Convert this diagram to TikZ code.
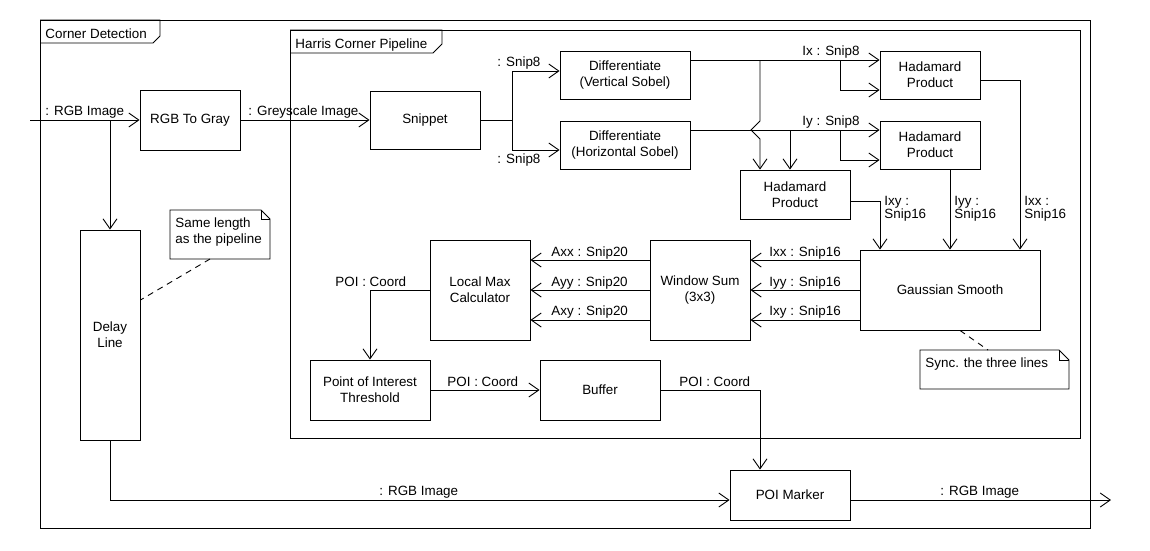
\documentclass[tikz,border=0pt]{standalone}
\usepackage{fontspec}
\setmainfont{Liberation Sans}
\usetikzlibrary{arrows.meta}

\begin{document}
\begin{tikzpicture}[x=1pt,y=-1pt,
  line width=0.9pt,
  font=\fontsize{13.4}{16}\selectfont,
  block/.style={draw, rectangle, align=center, inner sep=0pt},
  arr/.style={-{Straight Barb[length=10pt,width=14pt]}},
  lbl/.style={anchor=base west, inner sep=0pt},
  ghost/.style={inner sep=0pt, outer sep=0pt},
  link/.style={dash pattern=on 6pt off 5pt}
]
\useasboundingbox (0,0) rectangle (1150,550);
\fill[white] (0,0) rectangle (1150,550);

% ---- frames ----
\draw (40,20) rectangle (1090,528);
\draw (40,20) -- (160,20) -- (160,36) -- (153,43) -- (40,43);
\node[lbl] (tabOuter) at (45,38) {Corner Detection};

\draw (290,30) rectangle (1080,438);
\draw (290,30) -- (442,30) -- (442,44) -- (433,53) -- (290,53);
\node[lbl] (tabInner) at (295,48) {Harris Corner Pipeline};

% ---- blocks ----
\node[block, minimum width=100pt, minimum height=60pt] (rgb) at (190,120) {RGB To Gray};
\node[block, minimum width=60pt, minimum height=210pt] (delay) at (110,335) {Delay\\Line};
\node[block, minimum width=110pt, minimum height=58pt] (snippet) at (425,120) {Snippet};
\node[block, minimum width=130pt, minimum height=48pt] (diffv) at (625,75) {Differentiate\\(Vertical Sobel)};
\node[block, minimum width=130pt, minimum height=48pt] (diffh) at (625,145) {Differentiate\\(Horizontal Sobel)};
\node[block, minimum width=100pt, minimum height=48pt] (had1) at (930,75) {Hadamard\\Product};
\node[block, minimum width=100pt, minimum height=48pt] (had2) at (930,145) {Hadamard\\Product};
\node[block, minimum width=110pt, minimum height=49pt] (had3) at (795,194.5) {Hadamard\\Product};
\node[block, minimum width=180pt, minimum height=80pt] (gauss) at (950,290) {Gaussian Smooth};
\node[block, minimum width=100pt, minimum height=100pt] (wsum) at (700,290) {Window Sum\\(3x3)};
\node[block, minimum width=100pt, minimum height=100pt] (lmax) at (480,290) {Local Max\\Calculator};
\node[block, minimum width=120pt, minimum height=60pt] (poit) at (370,390) {Point of Interest\\Threshold};
\node[block, minimum width=120pt, minimum height=60pt] (buffer) at (600,390) {Buffer};
\node[block, minimum width=120pt, minimum height=50pt] (poim) at (790,495) {POI Marker};

% ---- notes ----
\node[ghost, minimum width=100pt, minimum height=49pt] (note1) at (220,234.5) {};
\draw (note1.north west) -- ([xshift=-9pt]note1.north east) -- ([yshift=-9pt]note1.north east)
      -- (note1.south east) -- (note1.south west) -- cycle;
\draw ([xshift=-9pt]note1.north east) -- ([xshift=-9pt,yshift=-9pt]note1.north east) -- ([yshift=-9pt]note1.north east);
\node[lbl, align=left] (note1txt) at (175,243) {Same length\\as the pipeline};

\node[ghost, minimum width=149pt, minimum height=39pt] (note2) at (994.5,369.5) {};
\draw (note2.north west) -- ([xshift=-10pt]note2.north east) -- ([yshift=-10pt]note2.north east)
      -- (note2.south east) -- (note2.south west) -- cycle;
\draw ([xshift=-10pt]note2.north east) -- ([xshift=-10pt,yshift=-10pt]note2.north east) -- ([yshift=-10pt]note2.north east);
\node[lbl] (note2txt) at (925,367) {Sync. the three lines};

\draw[link] ([xshift=-10pt]note1.south) -- ([yshift=35pt]delay.east);
\draw[link] ([xshift=10pt]gauss.south) -- ([xshift=-6.5pt]note2.north);

% ---- connectors ----
\coordinate (src) at (30,120);
\coordinate (tapDelay) at (110,120);
\coordinate (sink) at (1111,500);
\draw[arr] (src) -- (rgb.west);
\node[lbl] (lIn) at (45,115) {: RGB Image};
\draw[arr] (tapDelay) -- (delay.north);

\draw[arr] (rgb.east) -- (snippet.west);
\node[lbl] (lGrey) at (248,115) {: Greyscale Image};

\draw[arr] (snippet.east) -- ++(32,0) |- ([yshift=4pt]diffv.west);
\draw[arr] (snippet.east) -- ++(32,0) |- ([yshift=-5pt]diffh.west);
\node[lbl] (lS1) at (497,66) {: Snip8};
\node[lbl] (lS2) at (497,163) {: Snip8};

% Ix
\coordinate (ixSplit) at (840,60);
\coordinate (ixDrop) at (760,60);
\draw[arr] ([yshift=15pt]diffv.east) -- ([yshift=15pt]had1.west);
\draw[arr] (ixSplit) |- ([yshift=-15pt]had1.west);
\node[lbl] (lIx) at (802,55) {Ix : Snip8};

% Iy
\coordinate (iySplit) at (840,130);
\coordinate (iyDrop) at (790,130);
\draw[arr] ([yshift=15pt]diffh.east) -- ([yshift=15pt]had2.west);
\draw[arr] (iySplit) |- ([yshift=-15pt]had2.west);
\node[lbl] (lIy) at (802,125) {Iy : Snip8};

% Ix down to the cross product, hopping over the Iy line
\draw[arr] (ixDrop) -- (760,121) -- (751,130) -- (760,139) -- ([xshift=-35pt]had3.north);
\draw[arr] (iyDrop) -- ([xshift=-5pt]had3.north);

% products into the smoother
\draw[arr] ([yshift=-6.5pt]had3.east) -| ([xshift=-70pt]gauss.north);
\draw[arr] ([xshift=20pt]had2.south) -- (gauss.north);
\draw[arr] ([yshift=-5pt]had1.east) -| ([xshift=70pt]gauss.north);
\node[lbl, align=left] (lIxy) at (884,218) {Ixy :\\[-3pt]Snip16};
\node[lbl, align=left] (lIyy) at (954,218) {Iyy :\\[-3pt]Snip16};
\node[lbl, align=left] (lIxx) at (1024,218) {Ixx :\\[-3pt]Snip16};

% smoother to window sum
\draw[arr] ([yshift=30pt]gauss.west) -- ([yshift=30pt]wsum.east);
\draw[arr] (gauss.west) -- (wsum.east);
\draw[arr] ([yshift=-30pt]gauss.west) -- ([yshift=-30pt]wsum.east);
\node[lbl] (lGxx) at (769,256) {Ixx : Snip16};
\node[lbl] (lGyy) at (769,286) {Iyy : Snip16};
\node[lbl] (lGxy) at (769,315) {Ixy : Snip16};

% window sum to local max
\draw[arr] ([yshift=30pt]wsum.west) -- ([yshift=30pt]lmax.east);
\draw[arr] (wsum.west) -- (lmax.east);
\draw[arr] ([yshift=-30pt]wsum.west) -- ([yshift=-30pt]lmax.east);
\node[lbl] (lAxx) at (551,256) {Axx : Snip20};
\node[lbl] (lAyy) at (551,286) {Ayy : Snip20};
\node[lbl] (lAxy) at (551,315) {Axy : Snip20};

% points of interest
\draw[arr] (lmax.west) -| (poit.north);
\node[lbl] (lP1) at (335,286) {POI : Coord};
\draw[arr] (poit.east) -- (buffer.west);
\node[lbl] (lP2) at (447,386) {POI : Coord};
\draw[arr] (buffer.east) -| ([xshift=-30pt]poim.north);
\node[lbl] (lP3) at (679,386) {POI : Coord};

% delayed image and output
\draw[arr] (delay.south) |- ([yshift=-5pt]poim.west);
\node[lbl] (lD) at (379,495) {: RGB Image};
\draw[arr] ([yshift=-5pt]poim.east) -- (sink);
\node[lbl] (lOut) at (940,495) {: RGB Image};
\end{tikzpicture}
\end{document}
